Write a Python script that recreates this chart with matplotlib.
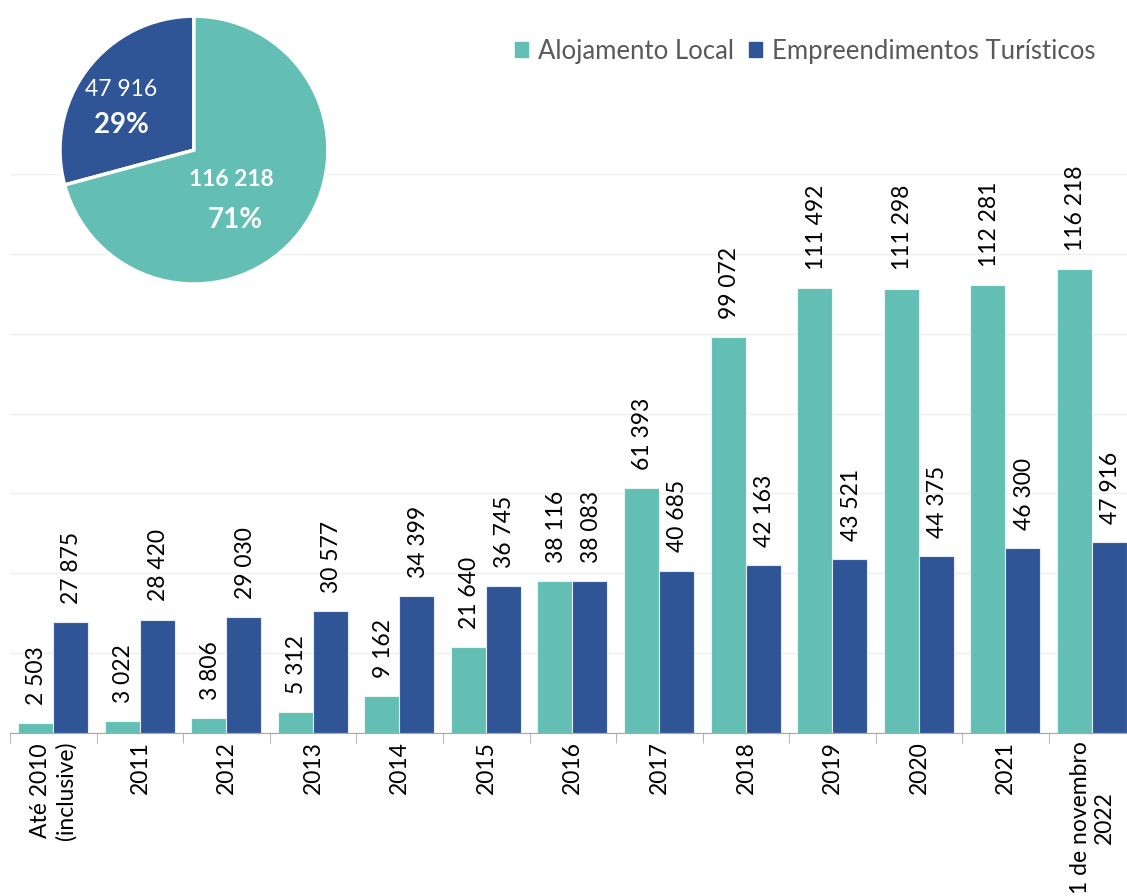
import matplotlib.pyplot as plt
from matplotlib.patches import Patch

categorias = ['Até 2010\n(inclusive)', '2011', '2012', '2013', '2014', '2015',
              '2016', '2017', '2018', '2019', '2020', '2021', '1 de novembro\n2022']
alojamento_local = [2503, 3022, 3806, 5312, 9162, 21640, 38116, 61393,
                    99072, 111492, 111298, 112281, 116218]
empreendimentos = [27875, 28420, 29030, 30577, 34399, 36745, 38083, 40685,
                   42163, 43521, 44375, 46300, 47916]
pie_valores = [47916, 116218]
pie_pct = ['29%', '71%']

cor_al = '#63BFB4'
cor_et = '#2F5597'

plt.rcParams['font.family'] = ['Lato', 'DejaVu Sans']


def fmt(v):
    return f'{v:,}'.replace(',', ' ')


fig = plt.figure(figsize=(11.27, 8.96), dpi=100)
ax = fig.add_axes([0.0089, 0.1819, 0.9987, 0.624])

x = list(range(len(categorias)))
w = 0.404
xa = [i - 0.206 for i in x]
xe = [i + 0.198 for i in x]
ax.bar(xa, alojamento_local, width=w, color=cor_al, edgecolor='#E8F5F3', linewidth=0.8)
ax.bar(xe, empreendimentos, width=w, color=cor_et, edgecolor='#E6EAF2', linewidth=0.8)

for xi, v in zip(xa, alojamento_local):
    ax.annotate(fmt(v), (xi, v), xytext=(1, 13), textcoords='offset points',
                rotation=90, ha='center', va='bottom', fontsize=16.5, annotation_clip=False)
for xi, v in zip(xe, empreendimentos):
    ax.annotate(fmt(v), (xi, v), xytext=(1, 13), textcoords='offset points',
                rotation=90, ha='center', va='bottom', fontsize=16.5, annotation_clip=False)

ax.set_xlim(-0.5, len(categorias) - 0.5)
ax.set_ylim(0, 140000)
ax.set_yticks(range(0, 140001, 20000))
ax.yaxis.grid(True, color='#EFEFEF', linewidth=1)
ax.set_axisbelow(True)
ax.tick_params(axis='y', left=False, labelleft=False)
for s in ['top', 'right', 'left']:
    ax.spines[s].set_visible(False)
ax.spines['bottom'].set_color('#A6A6A6')

ax.set_xticks(x)
ax.set_xticklabels(categorias, rotation=90, fontsize=16.5, multialignment='center')
ax.set_xticks([i - 0.5 for i in range(len(categorias) + 1)], minor=True)
ax.tick_params(axis='x', which='major', length=0, pad=6)
ax.tick_params(axis='x', which='minor', length=7, color='#A6A6A6')

handles = [Patch(color=cor_al), Patch(color=cor_et)]
fig.legend(handles, ['Alojamento Local', 'Empreendimentos Turísticos'],
           loc='center right', bbox_to_anchor=(0.993, 0.943), frameon=False,
           ncol=2, fontsize=18.5, handlelength=0.5, handleheight=0.5,
           handletextpad=0.4, columnspacing=0.6, labelcolor='#595959')

pax = fig.add_axes([0.0532, 0.683, 0.2378, 0.299])
pax.pie(pie_valores, colors=[cor_et, cor_al], startangle=90, counterclock=True,
        wedgeprops=dict(edgecolor='white', linewidth=2.5))
pax.set_xlim(-1, 1)
pax.set_ylim(-1, 1)
pax.set_aspect('equal')
pax.text(-0.54, 0.45, fmt(pie_valores[0]), color='white', fontsize=16.5,
         ha='center', va='center')
pax.text(-0.54, 0.19, pie_pct[0], color='white', fontsize=20, fontweight='bold',
         ha='center', va='center')
pax.text(0.28, -0.22, fmt(pie_valores[1]), color='white', fontsize=16.5,
         fontweight='bold', ha='center', va='center')
pax.text(0.31, -0.52, pie_pct[1], color='white', fontsize=20, fontweight='bold',
         ha='center', va='center')

fig.savefig('out.png', dpi=100)
